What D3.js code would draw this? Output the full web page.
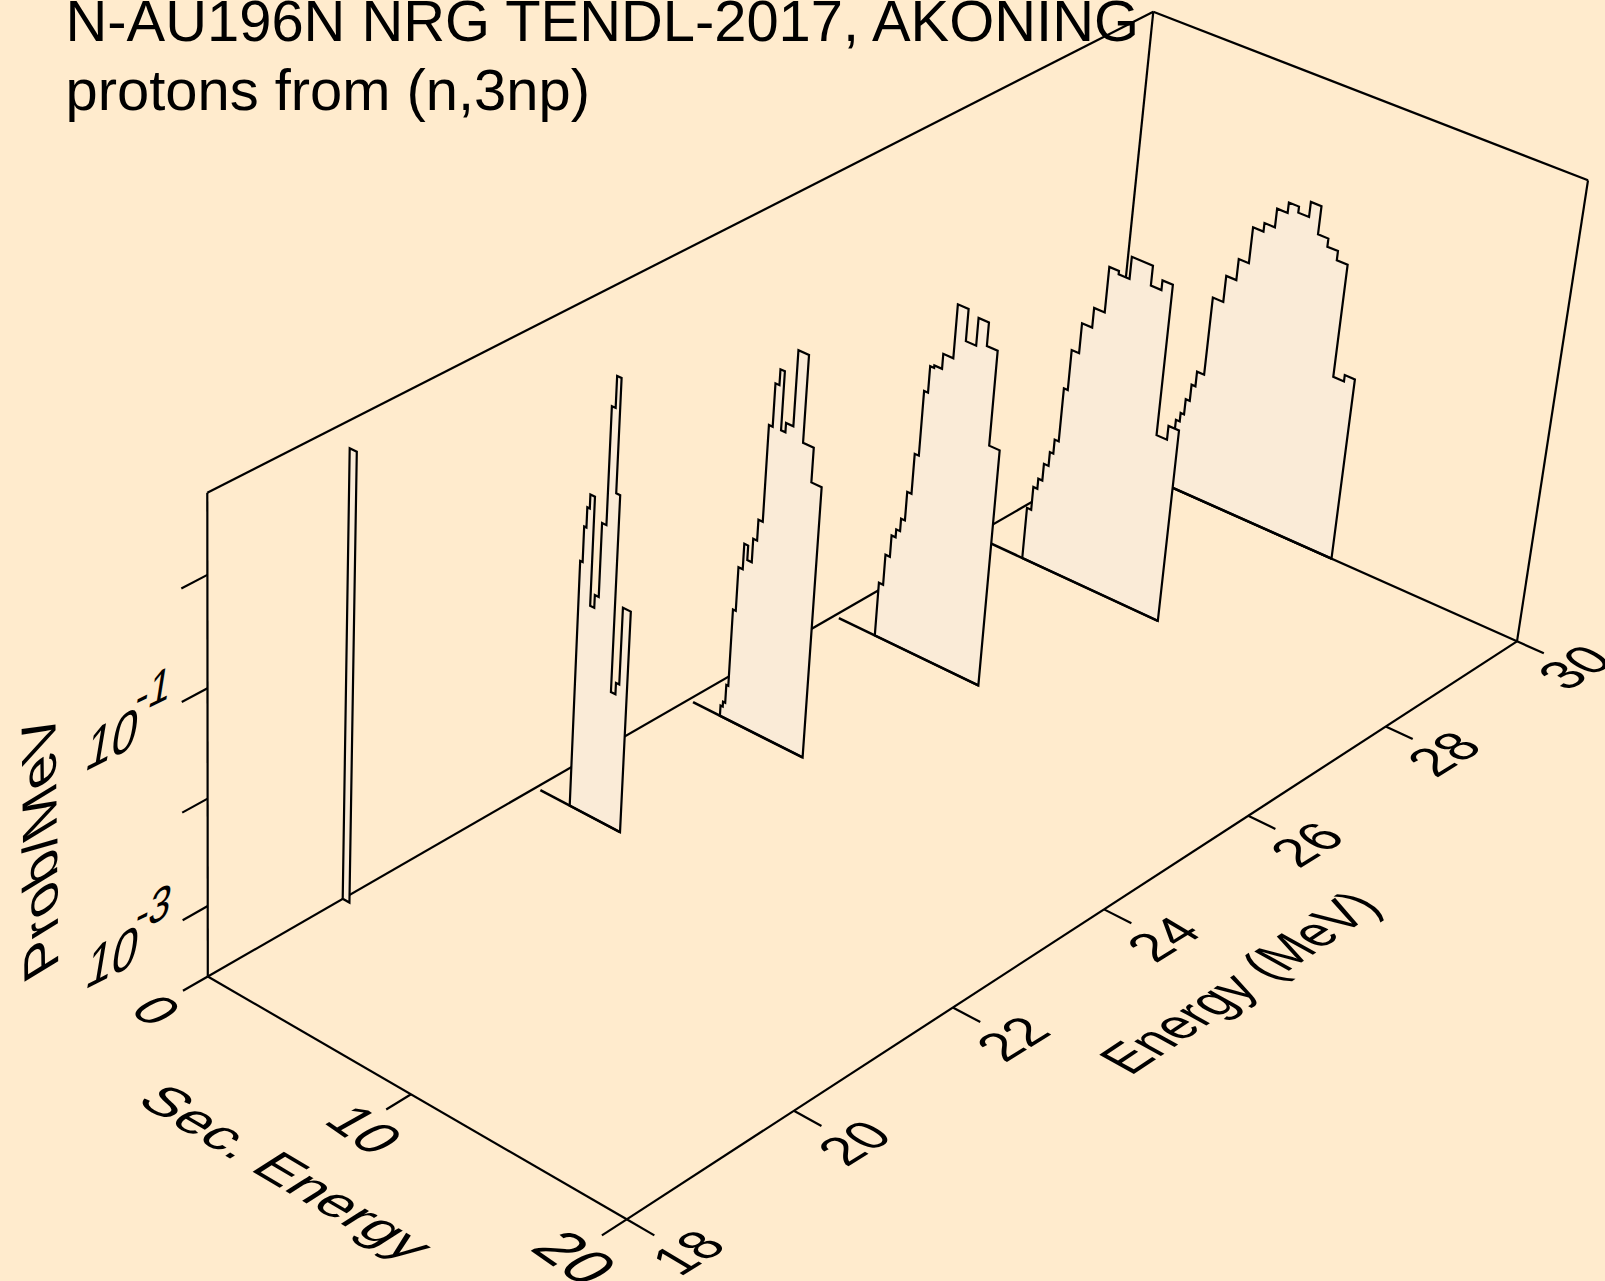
<!DOCTYPE html><html><head><meta charset="utf-8"><script src="https://cdn.jsdelivr.net/npm/d3@7"></script>
<style>html,body{margin:0;padding:0;background:#FFEBCD;overflow:hidden}svg{display:block}text{font-family:"Liberation Sans",Arial,sans-serif;fill:#000}</style></head><body>
<svg id="c" width="1605" height="1281"></svg>
<script>
// ---- chart text
const titleLines=["N-AU196N NRG TENDL-2017, AKONING","protons from (n,3np)"];
const xLabel="Energy (MeV)",yLabel="Sec. Energy",zLabel="Prob/MeV";
// ---- axes
const energyDomain=[18,30],secDomain=[0,20],probDomain=[2.139e-4,5.109];
const energyTicks=[18,20,22,24,26,28,30];
const secTicks=[0,10,20];
const probTicks=[1e-3,1e-2,1e-1,1e0];
const probLabels=[[1e-3,"-3"],[1e-1,"-1"]];
// ---- series: incident energy, secondary-energy bin edges, probability per bin
const incident=[30,28,26,24,22,19.6];
const edges30=[3.13,3.32,3.49,3.69,3.88,4.23,4.74,5.23,5.72,6.22,6.72,7.22,7.70,8.21,8.71,9.20,9.70,10.21,10.72,11.20];
const probs30=[0.00101,0.00123,0.00175,0.00255,0.00357,0.0206,0.0370,0.0592,0.131,0.158,0.238,0.299,0.262,0.364,0.197,0.165,0.135,0.0112,0.0129];
const edges28=[2.47,2.68,2.88,3.08,3.31,3.48,3.68,3.87,4.23,4.72,5.23,5.69,6.21,7.21,7.71,8.20,8.70,9.20];
const probs28=[0.000686,0.00116,0.00146,0.00214,0.00293,0.00403,0.0133,0.0324,0.0628,0.0967,0.260,0.242,0.390,0.254,0.313,0.0117,0.0159];
const edges26=[2.06,2.27,2.49,2.69,2.88,3.07,3.28,3.48,3.67,3.86,4.23,4.71,5.22,5.71,6.20,6.71,7.21];
const probs26=[0.000717,0.00142,0.00230,0.00275,0.00364,0.00689,0.0167,0.0689,0.122,0.129,0.178,0.562,0.284,0.512,0.311,0.0405];
const edges24=[1.60,1.71,1.82,1.92,2.06,2.27,2.46,2.68,2.87,3.08,3.26,3.45,3.66,3.87,4.22,4.72,5.23,5.72];
const probs24=[0.000270,0.000302,0.000454,0.00252,0.00663,0.0116,0.00845,0.0141,0.0222,0.177,0.442,0.616,0.178,0.217,1.07,0.170,0.0814];
const edges22=[1.72,1.84,1.95,2.07,2.29,2.49,2.68,2.89,3.07,3.28,3.47,3.69,3.85,4.23];
const probs22=[0.0457,0.0973,0.149,0.200,0.0198,0.0261,0.125,1.47,2.82,0.264,0.00399,0.00512,0.0268];
const edges196=[0,0.34];
const probs196=[2.92];
const allEdges=[edges30,edges28,edges26,edges24,edges22,edges196];
const allProbs=[probs30,probs28,probs26,probs24,probs22,probs196];
const floorStart=[0.24,0.24,0.24,0.24,0.24,0];  // start of each floor line
// ---- scales
const su=d3.scaleLinear().domain(secDomain).range([0,1]);
const sv=d3.scaleLinear().domain(energyDomain).range([0,1]);
const sw=d3.scaleLog().domain(probDomain).range([0,1]);
// ---- camera: box corners on screen
const O=[207.8,976.5],P=[626.7,1219.3],Q=[1517,641.3],R=[1107.2,458.6],Ot=[207.3,492.7],Rt=[1153.3,11.7],Qt=[1588,180.3];
function homog(p0,p1,p2,p3){const [x0,y0]=p0,[x1,y1]=p1,[x2,y2]=p2,[x3,y3]=p3;
 const dx1=x1-x2,dx2=x3-x2,sx=x0-x1+x2-x3,dy1=y1-y2,dy2=y3-y2,sy=y0-y1+y2-y3;
 const den=dx1*dy2-dx2*dy1;const g=(sx*dy2-dx2*sy)/den,h=(dx1*sy-sx*dy1)/den;
 return {a:x1-x0+g*x1,b:x3-x0+h*x3,d:x0,e:y1-y0+g*y1,f:y3-y0+h*y3,k:y0,g,h};}
const H=homog(O,P,Q,R);
const tops=[[0,0,Ot],[0,1,Rt],[1,1,Qt]];
const A=[],Bv=[];
tops.forEach(([u,v,p])=>{const W=H.g*u+H.h*v+1,X=H.a*u+H.b*v+H.d,Y=H.e*u+H.f*v+H.k;
 A.push([1,0,-p[0]]);Bv.push(p[0]*W-X);A.push([0,1,-p[1]]);Bv.push(p[1]*W-Y);});
function solve3(A,b){const n=3;const M=[...Array(n)].map((_,i)=>[...Array(n)].map((_,j)=>d3.sum(A,r=>r[i]*r[j])).concat(d3.sum(A,(r,k)=>r[i]*b[k])));
 for(let i=0;i<n;i++){let p=i;for(let r=i;r<n;r++)if(Math.abs(M[r][i])>Math.abs(M[p][i]))p=r;[M[i],M[p]]=[M[p],M[i]];
 for(let r=0;r<n;r++)if(r!=i){const f=M[r][i]/M[i][i];for(let c=i;c<=n;c++)M[r][c]-=f*M[i][c];}}
 return M.map((r,i)=>r[n]/r[i]);}
const [cx,cy,cw]=solve3(A,Bv);
function proj0(u,v,w){const W=H.g*u+H.h*v+cw*w+1;return [(H.a*u+H.b*v+cx*w+H.d)/W,(H.e*u+H.f*v+cy*w+H.k)/W];}
const sub=(a,b)=>[a[0]-b[0],a[1]-b[1]];
const r00=sub(Ot,proj0(0,0,1)),r01=sub(Rt,proj0(0,1,1)),r11=sub(Qt,proj0(1,1,1));
function proj(u,v,w){const p=proj0(u,v,w);return [0,1].map(i=>p[i]+w*(r00[i]+v*(r01[i]-r00[i])+u*(r11[i]-r01[i])));}
const pt=(sec,E,prob)=>proj(su(sec),sv(E),prob==null?0:sw(prob));
// ---- drawing
const svg=d3.select("#c");
const line=d3.line();
const LW=2.2;
function seg(a,b,w){svg.append("path").attr("d",line([a,b])).attr("fill","none").attr("stroke","#000").attr("stroke-width",w||LW).attr("stroke-linecap","butt");}
// box
[[[0,0,0],[1,0,0]],[[1,0,0],[1,1,0]],[[1,1,0],[0,1,0]],[[0,1,0],[0,0,0]],[[0,0,0],[0,0,1]],[[0,0,1],[0,1,1]],[[0,1,1],[1,1,1]],[[1,1,1],[1,1,0]],[[0,1,0],[0,1,1]]]
 .forEach(([a,b])=>seg(proj(...a),proj(...b)));
// ticks
const dU=0.062,dV=0.024;
energyTicks.forEach(e=>seg(proj(1,sv(e),0),proj(1+dU,sv(e),0)));
secTicks.forEach(s=>seg(proj(su(s),0,0),proj(su(s),-dV,0)));
probTicks.forEach(p=>seg(proj(0,0,sw(p)),proj(0,-dV,sw(p))));
// slabs from back to front
incident.forEach((E,i)=>{
 const ed=allEdges[i],pr=allProbs[i];
 const pts=[pt(ed[0],E)];
 pr.forEach((p,j)=>{pts.push(pt(ed[j],E,p));pts.push(pt(ed[j+1],E,p));});
 pts.push(pt(ed[ed.length-1],E));
 svg.append("path").attr("d",line(pts)+"Z").attr("fill","#FAEBD7").attr("stroke","#000").attr("stroke-width",LW).attr("stroke-linejoin","miter");
 if(floorStart[i]<ed[0]) seg(pt(floorStart[i],E),pt(ed[ed.length-1],E),2.6);
});
// text in the plane of each axis
function label(str,pos,u,v,anchor){
 svg.append("text").attr("font-size",100).attr("text-anchor",anchor||"middle")
  .attr("transform",`matrix(${u[0]/100},${u[1]/100},${-v[0]/100},${-v[1]/100},${pos[0]},${pos[1]})`).text(str);
}
titleLines.forEach((t,i)=>svg.append("text").attr("x",65.5).attr("y",i?109.5:41).attr("font-size",57.9).text(t));
// energy ticks
energyTicks.forEach(e=>{const p=proj(1,sv(e),0);label(String(e),[p[0]+77.5-0.3*(e-18),p[1]+43-0.6*(e-18)],[44,-27],[-47,-28]);});
label(xLabel,[1257,992],[41,-27.3],[-50.3,-27.9]);
// secondary ticks
const secOff=[[0,0,1],[4,2,1.05],[-3,6,1.15]];
secTicks.forEach((s,i)=>{const p=proj(su(s),0,0);const [dx,dy,k]=secOff[i];label(String(s),[p[0]-68+dx,p[1]+43+dy],[43*k,30*k],[48*k,-27*k]);});
label(yLabel,[270.8,1182.4],[50,29.5],[45.5,-28.9]);
// probability ticks
probLabels.forEach(([p,ex])=>{const q=proj(0,0,sw(p));const a=[q[0]-124,q[1]+84];
 label("10",a,[46,-23],[10,-60],"start");
 label(ex,[a[0]+50,a[1]-57],[39,-19],[8,-50],"start");});
label(zLabel,[56.8,837],[-0.7,-58],[-49,30]);
</script></body></html>
